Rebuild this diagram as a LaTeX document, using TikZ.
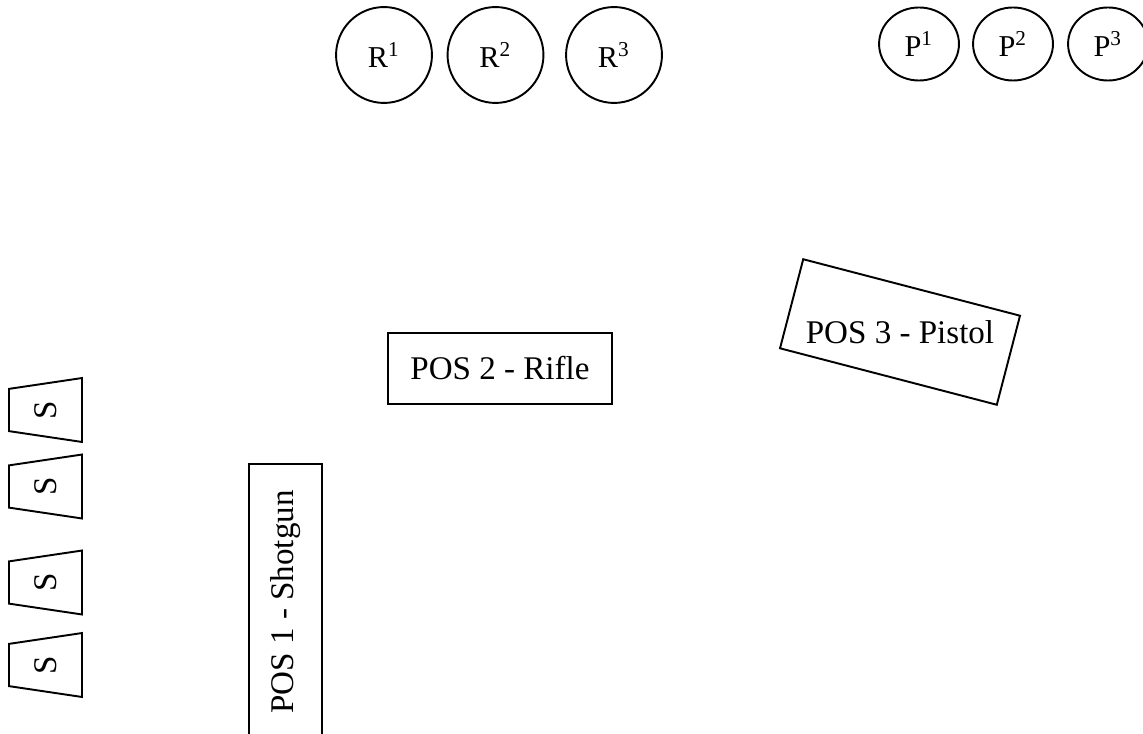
\documentclass[tikz,border=0pt]{standalone}
\usepackage{fontspec}
\setmainfont{Liberation Serif}
\usetikzlibrary{shapes.geometric}
\tikzset{target/.style = {draw, circle, line width=0.7pt, inner sep=0pt,
                          minimum size=34.8pt, font=\fontsize{11}{13}\selectfont},
         pistol/.style = {draw, ellipse, line width=0.7pt, inner sep=0pt,
                          minimum width=29pt, minimum height=26.5pt,
                          font=\fontsize{11}{13}\selectfont},
         posbox/.style = {draw, rectangle, line width=0.7pt, inner sep=0pt,
                          font=\fontsize{12}{14}\selectfont},
         shell/.style = {draw, trapezium, trapezium stretches=true,
                         trapezium left angle=78, trapezium right angle=78,
                         rotate=90, line width=0.7pt, inner sep=0pt,
                         minimum width=23.2pt, minimum height=26.5pt,
                         font=\fontsize{12}{14}\selectfont}}

\begin{document}
\begin{tikzpicture}[x=0.3629pt, y=-0.3629pt]
    \clip (0, 0) rectangle (1143, 734);
    % rifle targets
    \node [target] (r1) at (384, 55) {R\textsuperscript{1}};
    \node [target] (r2) at (495.5, 55) {R\textsuperscript{2}};
    \node [target] (r3) at (614, 55) {R\textsuperscript{3}};
    % pistol targets
    \node [pistol] (p1) at (919, 44) {P\textsuperscript{1}};
    \node [pistol] (p2) at (1013, 44) {P\textsuperscript{2}};
    \node [pistol] (p3) at (1108, 44) {P\textsuperscript{3}};
    % positions
    \node [posbox, minimum width=81.3pt, minimum height=25.8pt] (pos2) at (500, 368.5) {POS 2 - Rifle};
    \node [posbox, minimum width=81.3pt, minimum height=33.4pt, rotate=-14.6] (pos3) at (900, 332) {};
    \node [font=\fontsize{12}{14}\selectfont] (pos3label) at (pos3.center) {POS 3 - Pistol};
    \node [posbox, minimum width=100.2pt, minimum height=26.5pt, rotate=90] (pos1) at (285.5, 602) {POS 1 - Shotgun};
    % shotgun stations
    \node [shell] (s1) at (45.5, 410) {S};
    \node [shell] (s2) at (45.5, 486.5) {S};
    \node [shell] (s3) at (45.5, 582.5) {S};
    \node [shell] (s4) at (45.5, 665) {S};
\end{tikzpicture}
\end{document}
